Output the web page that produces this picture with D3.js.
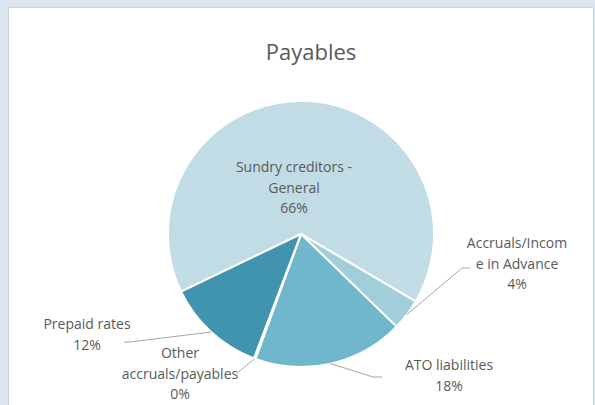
<!DOCTYPE html>
<html><head><meta charset="utf-8">
<script src="https://cdn.jsdelivr.net/npm/d3@7/dist/d3.min.js"></script>
<style>
html,body{margin:0;padding:0;background:#dce6f0;}
svg{display:block;}
</style></head>
<body><svg id="c" width="595" height="405"></svg>
<script>
const categories = ["Sundry creditors - General", "Accruals/Income in Advance", "ATO liabilities", "Other accruals/payables", "Prepaid rates"];
const values = [65.6, 3.8, 18.3, 0.2, 12.1];
const percentLabels = ["66%", "4%", "18%", "0%", "12%"];
const labelLines = [["Sundry creditors -", "General"], ["Accruals/Incom", "e in Advance"], ["ATO liabilities"], ["Other", "accruals/payables"], ["Prepaid rates"]];
const colors = ["#c1dce5", "#a2cddb", "#70b6cc", "#5aa6bd", "#4094ad"];

const svg = d3.select("#c");
const W = 595, H = 405;
svg.append("rect").attr("x", 8.5).attr("y", 7.5).attr("width", 585).attr("height", 420)
  .attr("fill", "#fff").attr("stroke", "#d0d4d8").attr("stroke-width", 1);

svg.append("text").attr("x", 311).attr("y", 60).attr("text-anchor", "middle")
  .attr("font-family", "Open Sans").attr("font-size", 22).attr("fill", "#595959").text("Payables");

const cx = 301, cy = 234, R = 133;
const start = 244.3 * Math.PI / 180;
const pie = d3.pie().sort(null).value(d => d).startAngle(start).endAngle(start + 2 * Math.PI);
const arcs = pie(values);
const arc = d3.arc().innerRadius(0).outerRadius(R);
const g = svg.append("g").attr("transform", `translate(${cx},${cy})`);
g.selectAll("path").data(arcs).enter().append("path")
  .attr("d", arc).attr("fill", (d, i) => colors[i])
  .attr("stroke", "#fff").attr("stroke-width", 2).attr("stroke-linejoin", "round");

// label layout (position of text block centre x, first baseline y) and leader elbow
const layout = [
  {x: 294, y: 172, line: null},
  {x: 517, y: 248, line: [[462, 268], [470, 268]]},
  {x: 449, y: 370, line: [[373, 377], [382, 377]]},
  {x: 180, y: 358, line: [[237, 373]]},
  {x: 87, y: 329, line: [[130, 342], [124, 342]]}
];
const lh = 20.5;
arcs.forEach((a, i) => {
  const L = layout[i];
  const lines = labelLines[i].concat([percentLabels[i]]);
  const t = svg.append("text").attr("text-anchor", "middle")
    .attr("font-family", "Open Sans").attr("font-size", 14).attr("fill", "#595959");
  lines.forEach((s, k) => t.append("tspan").attr("x", L.x).attr("y", L.y + k * lh).text(s));
  if (L.line) {
    const mid = (a.startAngle + a.endAngle) / 2;
    const p0 = [cx + R * Math.sin(mid), cy - R * Math.cos(mid)];
    svg.append("path").attr("d", d3.line()([p0].concat(L.line)))
      .attr("fill", "none").attr("stroke", "#a6a6a6").attr("stroke-width", 1);
  }
});
</script></body></html>
